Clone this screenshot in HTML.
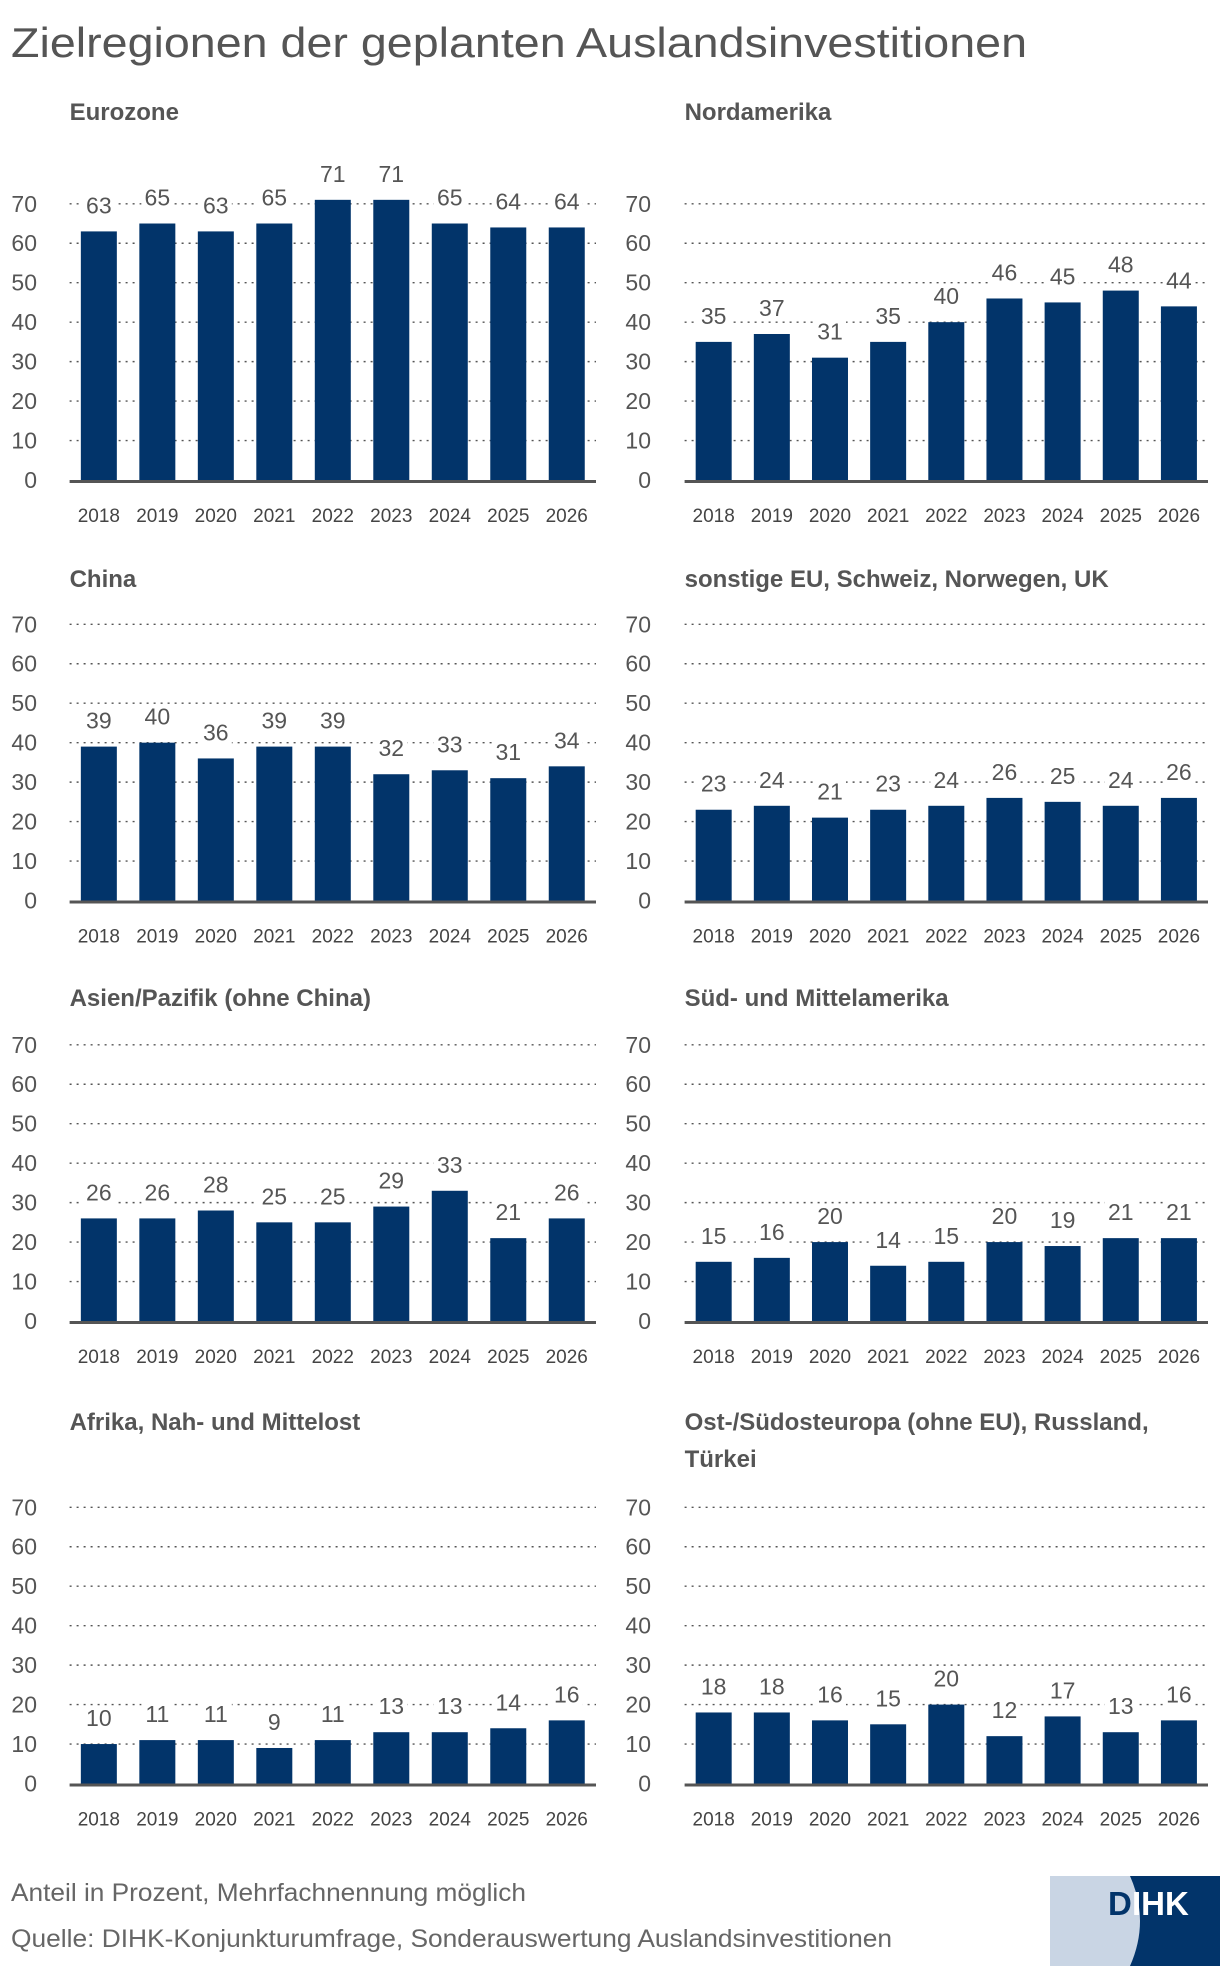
<!DOCTYPE html>
<html><head><meta charset="utf-8">
<style>
html,body{margin:0;padding:0;background:#fff;}
svg{display:block;font-family:"Liberation Sans",sans-serif;}
</style></head>
<body>
<svg id="chart" width="1220" height="1966" viewBox="0 0 1220 1966" xmlns="http://www.w3.org/2000/svg">
<text x="11" y="57" font-size="42" fill="#555" textLength="1016" lengthAdjust="spacingAndGlyphs">Zielregionen der geplanten Auslandsinvestitionen</text>
<text x="11" y="1901" font-size="25" fill="#666" textLength="515" lengthAdjust="spacingAndGlyphs">Anteil in Prozent, Mehrfachnennung möglich</text>
<text x="11" y="1947" font-size="25" fill="#666" textLength="881" lengthAdjust="spacingAndGlyphs">Quelle: DIHK-Konjunkturumfrage, Sonderauswertung Auslandsinvestitionen</text>
<g>
<rect x="1050" y="1876" width="170" height="90" fill="#c9d5e4"/>
<path d="M1130 1876 Q1150 1921 1130 1966 L1220 1966 L1220 1876 Z" fill="#02346a"/>
<text x="1108" y="1915" font-size="33" font-weight="bold" fill="#02346a">D</text>
<text x="1132" y="1915" font-size="33" font-weight="bold" fill="#fff">IHK</text>
</g>
</svg>
<script>
const years = ["2018","2019","2020","2021","2022","2023","2024","2025","2026"];
const yTicks = [0,10,20,30,40,50,60,70];
const eurozone = [63,65,63,65,71,71,65,64,64];
const nordamerika = [35,37,31,35,40,46,45,48,44];
const china = [39,40,36,39,39,32,33,31,34];
const sonstigeEU = [23,24,21,23,24,26,25,24,26];
const asienPazifik = [26,26,28,25,25,29,33,21,26];
const suedMittelamerika = [15,16,20,14,15,20,19,21,21];
const afrikaNahost = [10,11,11,9,11,13,13,14,16];
const osteuropa = [18,18,16,15,20,12,17,13,16];

const NS = "http://www.w3.org/2000/svg";
const svg = document.getElementById('chart');
function mk(tag, attrs, parent){
  const e = document.createElementNS(NS, tag);
  for (const k in attrs) e.setAttribute(k, attrs[k]);
  parent.appendChild(e);
  return e;
}
const panels = [
  {title:["Eurozone"], data:eurozone, col:0, base:480, titleY:120, slug:"eurozone"},
  {title:["Nordamerika"], data:nordamerika, col:1, base:480, titleY:120, slug:"nordamerika"},
  {title:["China"], data:china, col:0, base:900.5, titleY:587, slug:"china"},
  {title:["sonstige EU, Schweiz, Norwegen, UK"], data:sonstigeEU, col:1, base:900.5, titleY:587, slug:"sonstige-eu"},
  {title:["Asien/Pazifik (ohne China)"], data:asienPazifik, col:0, base:1321, titleY:1006, slug:"asien-pazifik"},
  {title:["Süd- und Mittelamerika"], data:suedMittelamerika, col:1, base:1321, titleY:1006, slug:"sued-mittelamerika"},
  {title:["Afrika, Nah- und Mittelost"], data:afrikaNahost, col:0, base:1783.5, titleY:1430, slug:"afrika-nahost"},
  {title:["Ost-/Südosteuropa (ohne EU), Russland,","Türkei"], data:osteuropa, col:1, base:1783.5, titleY:1430, slug:"osteuropa"}
];
const cols = [{x0:69.6,x1:596,lab:37},{x0:684.6,x1:1208,lab:651}];
const unit = 3.946;
panels.forEach(p=>{
  const c = cols[p.col];
  const g = mk('g',{},svg);
  
  
  const y = v => p.base - v*unit;
  const band = (c.x1 - c.x0)/years.length;
  const bw = 36;
  const xc = i => c.x0 + band*(i+0.5);
  p.title.forEach((t,k)=>{
    const tt = mk('text',{x:c.x0,y:p.titleY + k*37,'font-size':24,'font-weight':'bold',fill:'#555'},g);
    tt.textContent = t;
    
    
  });
  yTicks.forEach(t=>{
    if (t>0){
      const l = mk('line',{x1:c.x0,x2:c.x1,y1:y(t),y2:y(t),stroke:'#555','stroke-width':1.4,'stroke-dasharray':'2 5'},g);
      
      
    }
    const tl = mk('text',{x:c.lab,y:y(t)+8,'font-size':23,fill:'#555','text-anchor':'end'},g);
    tl.textContent = t;
    
    
  });
  p.data.forEach((v,i)=>{
    const r = mk('rect',{x:xc(i)-bw/2,y:y(v),width:bw,height:v*unit,fill:'#02346a'},g);
    
    
    const bg = mk('rect',{x:xc(i)-16,y:y(v)-38,width:32,height:24,fill:'#fff'},g);
    
    
    const vl = mk('text',{x:xc(i),y:y(v)-18,'font-size':23,fill:'#555','text-anchor':'middle'},g);
    vl.textContent = v;
    
    
    const xl = mk('text',{x:xc(i),y:p.base+42,'font-size':19,fill:'#444','text-anchor':'middle'},g);
    xl.textContent = years[i];
    
    
  });
  const ax = mk('line',{x1:c.x0,x2:c.x1,y1:p.base+1.5,y2:p.base+1.5,stroke:'#555','stroke-width':3},g);
  
  
});
</script>
</body></html>
